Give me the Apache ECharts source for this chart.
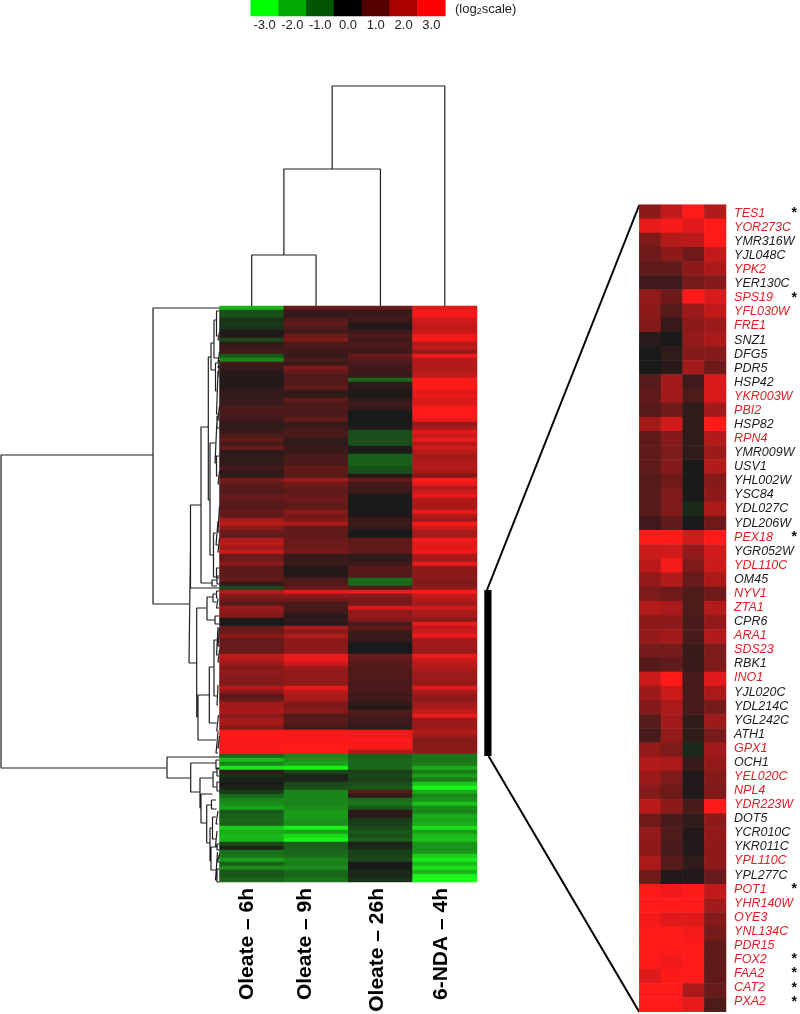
<!DOCTYPE html>
<html>
<head>
<meta charset="utf-8">
<title>Oleate clustering</title>
<script src="https://cdn.jsdelivr.net/npm/echarts@6/dist/echarts.min.js"></script>
<style>
  html, body { margin: 0; padding: 0; background: #fff; }
  #chart { width: 800px; height: 1014px; }
</style>
</head>
<body>
<div id="chart"></div>
<script>
const columnNames = ['Oleate – 6h', 'Oleate – 9h', 'Oleate – 26h', '6-NDA – 4h']
const legendTicks = ['-3.0', '-2.0', '-1.0', '0.0', '1.0', '2.0', '3.0']

// log2 ratios, one row per 4 columns top to bottom
const mainRows = [
  [-2, 1, 1, 2.6], [-.7, .4, .3, 2.9], [-.7, .3, .5, 2.9], [-.3, .8, .5, 2.4], [-.4, .9, .2, 2.3], [-.3, .7, .1, 2.2],
  [.1, .5, .5, 2.3], [.1, 1.1, .7, 2.8], [-.6, 1.3, .5, 2.9], [.3, .6, .6, 2], [.5, .6, .6, 2.2], [.5, .5, .5, 1.6],
  [-.8, .4, 1, 2.8], [-1.4, .6, .8, 2], [.5, .4, .6, 2], [.4, 1.3, .5, 2], [.2, 1, .5, 2], [.2, .7, .4, 2.2],
  [.1, .8, -1, 3], [.1, .7, .3, 3], [.2, 1, .2, 3], [.4, .3, .1, 2.6], [.3, .3, 0, 2.7], [.4, .9, .3, 2.5],
  [.4, .6, .5, 2.5], [.7, .7, .4, 3], [.6, .6, 0, 3], [.6, .7, 0, 3], [.5, .9, 0, 2.8], [.3, .4, 0, 1.6],
  [.3, .5, .1, 1.9], [.4, .6, -.7, 2.6], [.7, .6, -.7, 2.3], [.9, .3, -.7, 2.7], [.6, .3, -.7, 2], [1, .4, .1, 2.4],
  [.3, .4, 0, 2], [.3, .6, -.9, 1.8], [.3, .7, -.9, 1.9], [.3, .6, -.9, 2], [.6, 1, -.7, 2], [.3, .9, -.7, 1.8],
  [.3, .8, .2, 1.4], [1.2, 1.7, 1, 3], [.9, 1.2, .6, 2.7], [.8, 1, .5, 2], [.7, .9, .4, 2.3], [1, 1, 0, 2.7],
  [.9, 1.1, 0, 2], [.8, .9, 0, 1.9], [.8, .9, 0, 1.9], [1, 1.5, 0, 2.7], [.9, 1.2, .1, 2], [1.8, 1.3, .4, 1.7],
  [2.1, 1.9, .5, 3], [1.5, .9, .3, 2.3], [1.1, .9, 0, 1.9], [.9, .9, 0, 1.8], [2, 1.1, .9, 2.9], [2.1, 1.1, .9, 2.6],
  [1.7, 1.1, .9, 2.6], [2.3, 1.2, .9, 2.8], [1, .4, .3, 1.9], [1.1, .4, .3, 1.8], [1.5, .4, .5, 2.7], [.8, .1, .8, 1.6],
  [.9, .1, .8, 1.5], [.9, .2, .7, 1.5], [1, .7, -1.1, 1.4], [.3, .7, -1, 1.3], [-.6, 1, .7, 1.5], [2, 2.6, 2.7, 3],
  [1.4, 1.5, 1.4, 2.2], [1.1, 1.1, 1.2, 2], [.8, .6, 1.2, 1.8], [1.7, .6, 2.5, 2.3], [1.5, .5, 1.5, 1.9], [1.4, .2, 1.6, 1.8],
  [0, .3, 1.4, 1.4], [0, .2, .6, 2.7], [1, 1.9, .9, 2.2], [1.1, 1.4, .5, 2.3], [1.5, 2, .4, 2.8], [1, 1.5, .4, 1.8],
  [1, 1.5, 0, 1.8], [1, 1.5, 0, 1.7], [1, 1.5, 0, 1.6], [2.2, 2.7, 1, 2.8], [2, 2.7, .9, 2.3], [1.7, 2.3, .8, 2.1],
  [1.4, 1.7, .7, 2], [1.6, 1.6, .7, 1.8], [1.4, 1.6, .7, 1.7], [1.4, 1.6, .7, 1.7], [1.3, 1.5, .6, 1.6], [2, 2.7, .6, 2.6],
  [1.5, 2.1, .6, 1.9], [.8, 1.9, .5, 1.6], [1, 1.8, .5, 1.5], [1.8, 1.3, .3, 1.8], [1.8, 1.3, .2, 1.9], [1.9, 1.5, .7, 2.2],
  [1.4, .7, .6, 2.7], [1.9, .9, .5, 1.7], [1.8, .7, .4, 1.7], [1.4, .6, .3, 1.7], [3, 3, 2.8, 2], [3, 2.9, 2.8, 1.7],
  [3, 3, 3, 1.4], [2.9, 3, 2.9, 1.4], [3, 3, 2.9, 1.5], [3, 3, 2, 1.5], [-1, -1.4, -.9, -1.2], [-2.1, -1.6, -1, -1.2],
  [-1.4, -1.8, -1, -1.3], [-2.7, -2.8, -1, -1.9], [.3, -.6, -.5, -1.3], [-.3, -.1, -.6, -1.7], [-.1, -.1, -.5, -1.3], [0, -.6, -.7, -2.3],
  [-.1, -.7, -.8, -2.9], [-.4, -1.4, .8, -1.9], [-1, -1.4, .3, -1.4], [-1.4, -1.4, -1.1, -1.6], [-1.5, -1.4, -1.2, -2.2], [-1.8, -1.5, -.8, -1.5],
  [-.8, -1.7, .3, -1.4], [-.9, -1.7, .2, -1.9], [-1, -1.6, -.4, -1.8], [-.9, -1.5, -.5, -1.9], [-2.3, -2.8, -.6, -2.6], [-1.9, -1.8, -.8, -1.7],
  [-2.1, -2.5, -.7, -2.1], [-2, -2.8, -.9, -2.2], [-.6, -.9, -.1, -1.6], [-.1, -.9, -.2, -1.6], [-1.1, -1, -.5, -1.6], [-1.2, -1.1, -.5, -2.4],
  [-1.7, -1.4, -.6, -2.7], [-.9, -1.3, 0, -2.1], [-1.5, -1.5, 0, -2.6], [-.8, -1, -.2, -2], [-.8, -1, -.2, -2.8], [-1, -1.2, -.3, -3]
]

const geneNames = [
  'TES1', 'YOR273C', 'YMR316W', 'YJL048C', 'YPK2', 'YER130C', 'SPS19', 'YFL030W', 'FRE1', 'SNZ1', 'DFG5', 'PDR5',
  'HSP42', 'YKR003W', 'PBI2', 'HSP82', 'RPN4', 'YMR009W', 'USV1', 'YHL002W', 'YSC84', 'YDL027C', 'YDL206W', 'PEX18',
  'YGR052W', 'YDL110C', 'OM45', 'NYV1', 'ZTA1', 'CPR6', 'ARA1', 'SDS23', 'RBK1', 'INO1', 'YJL020C', 'YDL214C',
  'YGL242C', 'ATH1', 'GPX1', 'OCH1', 'YEL020C', 'NPL4', 'YDR223W', 'DOT5', 'YCR010C', 'YKR011C', 'YPL110C', 'YPL277C',
  'POT1', 'YHR140W', 'OYE3', 'YNL134C', 'PDR15', 'FOX2', 'FAA2', 'CAT2', 'PXA2'
]
const redGenes = [
  'TES1', 'YOR273C', 'YPK2', 'SPS19', 'YFL030W', 'FRE1', 'YKR003W', 'PBI2', 'RPN4', 'PEX18', 'YDL110C', 'NYV1', 'ZTA1',
  'ARA1', 'SDS23', 'INO1', 'GPX1', 'YEL020C', 'NPL4', 'YDR223W', 'YPL110C', 'POT1', 'YHR140W', 'OYE3', 'YNL134C',
  'PDR15', 'FOX2', 'FAA2', 'CAT2', 'PXA2'
]
const starredGenes = ['TES1', 'SPS19', 'PEX18', 'POT1', 'FOX2', 'FAA2', 'CAT2', 'PXA2']

const detailRows = [
  [1.5, 2.2, 3, 2], [2.7, 2.9, 2.6, 3], [1.3, 2, 2.1, 3], [1.1, 1.5, 1.1, 2.2], [.9, .9, 1.5, 1.9], [.5, .5, 1.2, 1.4],
  [1.6, 1.1, 3, 2.5], [1.5, .8, 1.7, 2.2], [1.4, .4, 1.5, 1.7], [.2, 0, 1.6, 1.9], [0, .3, 1.4, 1.4], [0, .2, 1.8, 1.1],
  [.8, 1.8, .5, 2.5], [.9, 1.8, .7, 2.5], [.8, 1.1, .3, 1.8], [1.8, 2.4, .3, 3], [.9, 1.4, .3, 2], [.9, 1.3, .3, 1.7],
  [.9, 1.4, 0, 2], [.8, 1.1, 0, 1.4], [.8, 1.3, 0, 1.5], [.8, 1.3, -.2, 1.9], [.5, .9, 0, 1.1], [3, 3, 2.4, 3],
  [2.3, 2.4, 1.6, 2.4], [2.1, 2.9, 1.3, 2.3], [1.6, 2, 1, 1.9], [1.3, 1.1, .7, 1.1], [2, 1.9, .7, 2], [1.5, 1.5, .6, 1.6],
  [1.6, 1.8, .6, 2], [1.2, 1.2, .4, 1.3], [.8, .9, .4, 1.3], [2.3, 3, .6, 2.6], [1.7, 2.3, .6, 1.9], [1.4, 1.9, .6, 1.2],
  [.8, 1.8, .3, 1.7], [.6, 1.6, .3, 1.2], [1.6, 1.3, -.2, 1.8], [2, 1.9, .4, 1.6], [1.7, 1.3, .1, 1.4], [1.4, 1.1, .1, 1.3],
  [2.1, 1.5, .6, 3], [1.1, .6, .3, 1.5], [1.6, .7, .1, 1.6], [1.5, .6, .1, 1.5], [1.9, .8, .3, 1.5], [1.1, .1, .1, 1],
  [3, 2.8, 3, 2.2], [3, 3, 3, 1.8], [2.9, 2.6, 2.6, 1.4], [3, 3, 2.9, 1.2], [3, 3, 3, .9], [3, 2.8, 3, .9],
  [2.6, 3, 3, .9], [3, 3, 1.9, 1], [3, 3, 2.7, .7]
]

// dendrogram joins: [join depth, top branch pos, bottom branch pos, top child depth, bottom child depth]
const rowTree = [
  [1, 149, 462, 153, 167], [153, 2, 298, 219.5, 189], [189, 240, 357, 190.5, 196.7], [190.5, 199, 282, 201, 219.5],
  [201, 121, 277, 208.3, 212], [208.3, 51, 194, 211, 210], [211, 37, 64, 214, 215.5], [214, 14, 52, 216.5, 218],
  [216.5, 5, 30, 219, 218], [218, 26, 34, 219.5, 219.5], [218, 46, 56, 219.5, 219.5], [215.5, 57, 85, 218, 216.5],
  [218, 54, 62, 219.5, 219.5], [216.5, 65, 108, 218, 218], [218, 60, 70, 219.5, 219.5], [218, 100, 114, 219.5, 219.5],
  [210, 137, 249, 215, 213.5], [215, 114, 157, 217, 216.5], [217, 110, 122, 219.5, 219.5], [216.5, 150, 170, 219, 218],
  [218, 165, 178, 219.5, 219.5], [213.5, 227, 271, 216, 216.5], [216, 215, 239, 218, 218], [218, 200, 226, 219.5, 219.5],
  [218, 232, 246, 219.5, 219.5], [216.5, 262, 272, 219, 219], [212, 274, 280, 217, 217], [217, 270, 278, 219.5, 219.5],
  [196.7, 302, 411, 207, 198], [207, 291, 314, 213, 215], [213, 288, 296, 216.5, 216.5], [216.5, 285, 292, 219.5, 218],
  [216.5, 293, 302, 218, 219.5], [215, 310, 318, 219.5, 219.5], [198, 389, 434, 209.3, 216], [209.3, 361, 417, 214, 216.7],
  [214, 334, 390, 216.5, 217], [216.5, 321, 349, 218, 218], [218, 322, 340, 219.5, 219.5], [218, 344, 356, 219.5, 219.5],
  [217, 379, 399, 218, 218], [216.7, 409, 425, 218.5, 218.5], [216, 426, 447, 218, 218], [218, 430, 442, 219.5, 219.5],
  [167, 451, 472, 219.5, 190.7], [190.7, 457, 486, 216, 200], [216, 454, 463, 219.5, 219.5], [200, 472, 502, 213, 201],
  [213, 466, 481, 217, 217], [217, 462, 470, 219.5, 219.5], [217, 476, 485, 219.5, 219.5], [201, 488, 517, 212.5, 206.7],
  [206.7, 499, 537, 211.5, 210], [211.5, 494, 503, 216, 216.5], [210, 522, 555, 212.5, 211], [212.5, 511, 533, 216, 215.5],
  [216, 505, 518, 218, 218], [215.5, 525, 540, 217, 218], [211, 541, 564, 217, 215.5], [217, 538, 544, 219.5, 219.5],
  [215.5, 546, 574, 217.5, 217], [217.5, 548, 556, 219.5, 219.5], [217, 563, 576, 219.5, 219.5]
]
const columnTree = [
  [51, 0.5, 1.5, 0, 0], [137, 1, 2.5, 51, 0], [220, 1.75, 3.5, 137, 0]
]

const columnLabelX = [247, 305, 377, 441]

// one join becomes a bracket shape, null point breaks the line
const treeLine = (tree, toPoint) => tree.flatMap(([d, a, b, da, db]) => [
  toPoint(da, a), toPoint(d, a), toPoint(d, b), toPoint(db, b), [null, null]
])

const heatData = rows => rows.flatMap((row, r) => row.map((v, c) => [c, r, v]))

const heatmapSeries = (gridIndex, data) => ({
  type: 'heatmap',
  xAxisIndex: gridIndex,
  yAxisIndex: gridIndex,
  data,
  silent: true,
  progressive: 0,
  itemStyle: { borderWidth: 0 }
})

const treeSeries = (axisIndex, data) => ({
  type: 'line',
  xAxisIndex: axisIndex,
  yAxisIndex: axisIndex,
  data,
  symbol: 'none',
  silent: true,
  clip: false,
  lineStyle: { color: '#1f1f1f', width: 1.2 }
})

const hiddenValue = (gridIndex, min, max, inverse) => ({
  type: 'value', gridIndex, min, max, inverse, show: false
})
const hiddenCategory = (gridIndex, data, inverse) => ({
  type: 'category', gridIndex, data, inverse, show: false
})

const option = {
  animation: false,
  backgroundColor: '#fff',
  textStyle: { fontFamily: '"Liberation Sans", Arial, sans-serif' },
  title: {
    left: 455,
    top: 2,
    padding: 0,
    text: '(log{sub|2}scale)',
    textStyle: {
      fontSize: 13,
      fontWeight: 'normal',
      color: '#222',
      rich: { sub: { fontSize: 9, padding: [5, 0, 0, 0], color: '#222' } }
    }
  },
  grid: [
    { left: 219.5, top: 306, width: 257.5, height: 576 },
    { left: 639.3, top: 204.7, width: 86.7, height: 807 },
    { left: 250.7, top: 0, width: 194.6, height: 16 },
    { left: 0, top: 306, width: 219.5, height: 576 },
    { left: 219.5, top: 85.7, width: 257.5, height: 220.3 },
    // gene names run a touch tighter than the cells
    { left: 639.3, top: 206.3, width: 86.7, height: 802.5 }
  ],
  xAxis: [
    hiddenCategory(0, columnNames),
    hiddenCategory(1, columnNames),
    {
      type: 'category',
      gridIndex: 2,
      data: legendTicks,
      axisLine: { show: false },
      axisTick: { show: false },
      axisLabel: { color: '#222', fontSize: 13, margin: 3, interval: 0 }
    },
    hiddenValue(3, 0, 219.5),
    hiddenValue(4, 0, 4),
    hiddenCategory(5, columnNames)
  ],
  yAxis: [
    hiddenCategory(0, mainRows.map((_, i) => i), true),
    hiddenCategory(1, geneNames, true),
    hiddenCategory(2, ['scale']),
    hiddenValue(3, 0, 576, true),
    hiddenValue(4, 0, 220.3),
    {
      type: 'category',
      gridIndex: 5,
      data: geneNames,
      inverse: true,
      position: 'right',
      axisLine: { show: false },
      axisTick: { show: false },
      axisLabel: {
        fontSize: 12.5,
        fontStyle: 'italic',
        margin: 10.5,
        interval: 0,
        color: name => redGenes.includes(name) ? '#dd1f26' : '#1c1c1c'
      }
    },
    {
      type: 'category',
      gridIndex: 5,
      data: geneNames,
      inverse: true,
      position: 'right',
      offset: 65,
      axisLine: { show: false },
      axisTick: { show: false },
      axisLabel: {
        fontSize: 14,
        fontWeight: 'bold',
        color: '#111',
        margin: 3,
        interval: 0,
        padding: [9, 0, 0, 0],
        formatter: name => starredGenes.includes(name) ? '*' : ''
      }
    }
  ],
  visualMap: [
    {
      show: false,
      seriesIndex: [0, 1],
      min: -3,
      max: 3,
      inRange: { color: ['#1aff1a', '#1a1a1a', '#ff1a1a'] }
    },
    {
      show: false,
      seriesIndex: 2,
      min: -3,
      max: 3,
      inRange: { color: ['#00ff00', '#000000', '#ff0000'] }
    }
  ],
  series: [
    heatmapSeries(0, heatData(mainRows)),
    heatmapSeries(1, heatData(detailRows)),
    heatmapSeries(2, legendTicks.map((t, i) => [i, 0, Number(t)])),
    treeSeries(3, treeLine(rowTree, (d, p) => [d, p])),
    treeSeries(4, treeLine(columnTree, (d, p) => [p, d]))
  ],
  graphic: [
    { type: 'rect', shape: { x: 484.3, y: 590, width: 7.2, height: 166 }, style: { fill: '#000' } },
    { type: 'line', shape: { x1: 487, y1: 590, x2: 639.3, y2: 205 }, style: { stroke: '#000', lineWidth: 2 } },
    { type: 'line', shape: { x1: 488.5, y1: 756, x2: 639.3, y2: 1012 }, style: { stroke: '#000', lineWidth: 2 } },
    ...columnNames.map((name, i) => ({
      type: 'text',
      x: columnLabelX[i],
      y: 888,
      rotation: Math.PI / 2,
      style: {
        text: name,
        fill: '#000',
        font: 'bold 21px "Liberation Sans", Arial, sans-serif',
        align: 'right',
        verticalAlign: 'middle'
      }
    }))
  ]
}

const myChart = echarts.init(document.getElementById('chart'), null, { renderer: 'canvas' })
myChart.setOption(option)
</script>
</body>
</html>
